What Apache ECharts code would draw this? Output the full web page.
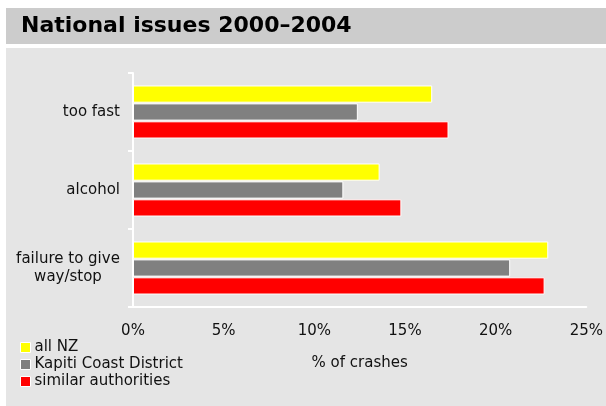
<!DOCTYPE html>
<html>
<head>
<meta charset="utf-8">
<script src="https://cdn.jsdelivr.net/npm/echarts@6/dist/echarts.min.js"></script>
<style>
    html, body { margin: 0; padding: 0; background: #ffffff; }
    #chart { width: 606px; height: 406px; }
</style>
</head>
<body>
<div id="chart"></div>
<script>
    var categories = ["too fast", "alcohol", "failure to give\nway/stop"];
    var allNz = [16.5, 13.6, 22.9];
    var kapiti = [12.4, 11.6, 20.8];
    var similar = [17.4, 14.8, 22.7];
    var xTicks = [0, 5, 10, 15, 20, 25];

    var font = "'DejaVu Sans', Verdana, sans-serif";
    var chart = echarts.init(document.getElementById("chart"));

    function barSeries(name, data, color) {
        return {
            name: name,
            type: "bar",
            data: data,
            barGap: "4%",
            barCategoryGap: "32%",
            animation: false,
            itemStyle: {
                color: color,
                borderColor: "#ffffff",
                borderWidth: 1
            }
        };
    }

    var option = {
        backgroundColor: "#ffffff",
        graphic: [
            // title band
            {
                type: "rect",
                z: -10,
                shape: { x: 6, y: 8, width: 600, height: 36 },
                style: { fill: "#cccccc" }
            },
            // plot panel
            {
                type: "rect",
                z: -10,
                shape: { x: 6, y: 48, width: 600, height: 358 },
                style: { fill: "#e5e5e5" }
            }
        ],
        title: {
            text: "National issues 2000\u20132004",
            left: 16,
            top: 10,
            textStyle: {
                fontFamily: font,
                fontSize: 22,
                fontWeight: "bold",
                color: "#000000"
            }
        },
        legend: {
            orient: "vertical",
            left: 15,
            top: 334,
            itemWidth: 10,
            itemHeight: 10,
            itemGap: 0,
            icon: "rect",
            data: ["all NZ", "Kapiti Coast District", "similar authorities"],
            itemStyle: { borderColor: "#ffffff", borderWidth: 1 },
            textStyle: { fontFamily: font, fontSize: 15, lineHeight: 17, color: "#111111", padding: [0, 0, 0, -1] }
        },
        grid: {
            left: 133,
            right: 18,
            top: 73,
            bottom: 99,
            containLabel: false
        },
        xAxis: {
            type: "value",
            min: xTicks[0],
            max: xTicks[xTicks.length - 1],
            interval: 5,
            name: "% of crashes",
            nameLocation: "middle",
            nameGap: 49,
            nameTextStyle: { fontFamily: font, fontSize: 15, color: "#111111" },
            axisLine: { show: true, lineStyle: { color: "#ffffff", width: 2 } },
            axisTick: { show: false },
            splitLine: { show: false },
            axisLabel: {
                fontFamily: font,
                fontSize: 15,
                color: "#111111",
                margin: 17,
                formatter: "{value}%"
            }
        },
        yAxis: {
            type: "category",
            inverse: true,
            data: categories,
            axisLine: { show: true, lineStyle: { color: "#ffffff", width: 2 } },
            axisTick: { show: true, length: 5, lineStyle: { color: "#ffffff", width: 2 } },
            axisLabel: {
                fontFamily: font,
                fontSize: 15,
                color: "#111111",
                margin: 13,
                lineHeight: 18,
                align: "right",
                // two-line label: lines centred on each other
                formatter: function (value) {
                    if (value.indexOf("\n") < 0) {
                        return value;
                    }
                    return value.split("\n").map(function (line) {
                        return "{c|" + line + "}";
                    }).join("\n");
                },
                rich: {
                    c: {
                        fontFamily: font,
                        fontSize: 15,
                        color: "#111111",
                        lineHeight: 18,
                        width: 104,
                        align: "center"
                    }
                }
            }
        },
        series: [
            barSeries("all NZ", allNz, "#ffff00"),
            barSeries("Kapiti Coast District", kapiti, "#808080"),
            barSeries("similar authorities", similar, "#ff0000")
        ]
    };

    chart.setOption(option);
</script>
</body>
</html>
